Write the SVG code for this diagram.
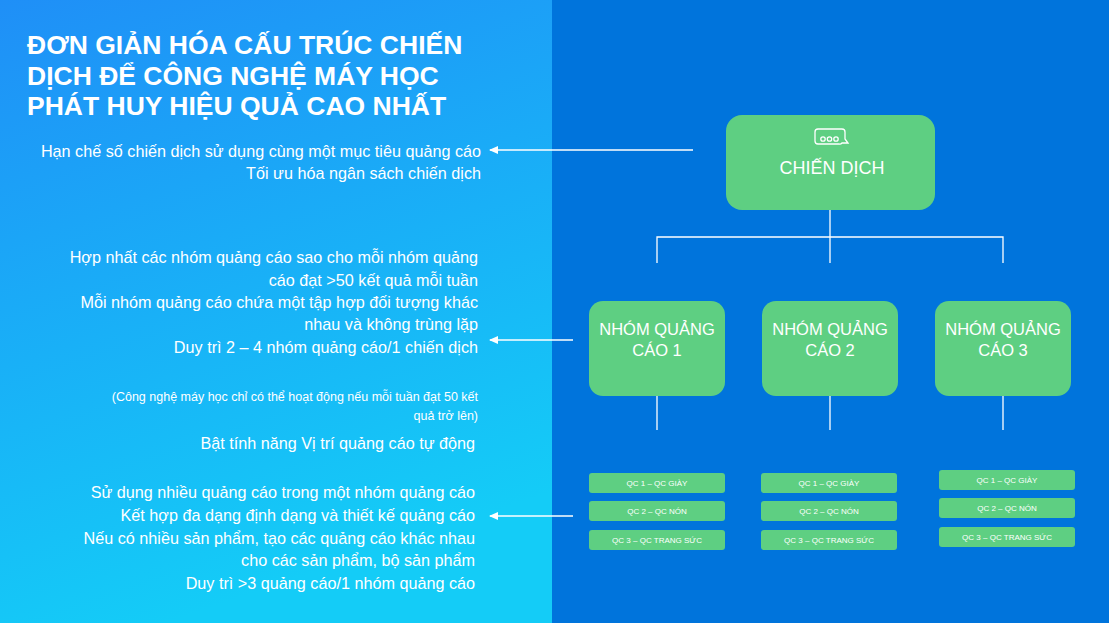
<svg xmlns="http://www.w3.org/2000/svg" width="1109" height="623" viewBox="0 0 1109 623">
<defs>
<linearGradient id="lg" x1="0" y1="0" x2="0.3" y2="1">
<stop offset="0" stop-color="#1f8ff7"/><stop offset="1" stop-color="#14ccf7"/>
</linearGradient>
<marker id="ah" markerWidth="9" markerHeight="8" refX="8" refY="4" orient="auto" markerUnits="userSpaceOnUse"><path d="M0,0 L9,4 L0,8 Z" fill="#fff"/></marker>
</defs>
<style>
text{font-family:"Liberation Sans","DejaVu Sans",sans-serif;fill:#fff}
.t{font-size:26.5px;font-weight:bold}
.l{font-size:16.2px;text-anchor:end}
.n{fill:#5ecf82}
.c{font-size:16.5px;text-anchor:middle}
.s{font-size:8px;text-anchor:middle}
.ln{stroke:#fff;stroke-width:1.3;fill:none}
</style>
<rect width="552" height="623" fill="url(#lg)"/>
<rect x="552" width="557" height="623" fill="#0074dc"/>
<text class="t" x="27" y="54">ĐƠN GIẢN HÓA CẤU TRÚC CHIẾN</text>
<text class="t" x="27" y="85">DỊCH ĐỂ CÔNG NGHỆ MÁY HỌC</text>
<text class="t" x="27" y="115">PHÁT HUY HIỆU QUẢ CAO NHẤT</text>
<g>
<text class="l" x="481" y="157">Hạn chế số chiến dịch sử dụng cùng một mục tiêu quảng cáo</text>
<text class="l" x="481" y="179">Tối ưu hóa ngân sách chiến dịch</text>
<text class="l" x="478" y="263">Hợp nhất các nhóm quảng cáo sao cho mỗi nhóm quảng</text>
<text class="l" x="478" y="286">cáo đạt &gt;50 kết quả mỗi tuần</text>
<text class="l" x="478" y="308">Mỗi nhóm quảng cáo chứa một tập hợp đối tượng khác</text>
<text class="l" x="478" y="330">nhau và không trùng lặp</text>
<text class="l" x="478" y="353">Duy trì 2 – 4 nhóm quảng cáo/1 chiến dịch</text>
<text class="l" x="478" y="401" style="font-size:12.5px">(Công nghệ máy học chỉ có thể hoạt động nếu mỗi tuần đạt 50 kết</text>
<text class="l" x="478" y="420" style="font-size:12.5px">quả trở lên)</text>
<text class="l" x="475" y="449">Bật tính năng Vị trí quảng cáo tự động</text>
<text class="l" x="475" y="498">Sử dụng nhiều quảng cáo trong một nhóm quảng cáo</text>
<text class="l" x="475" y="521">Kết hợp đa dạng định dạng và thiết kế quảng cáo</text>
<text class="l" x="475" y="544">Nếu có nhiều sản phẩm, tạo các quảng cáo khác nhau</text>
<text class="l" x="475" y="566">cho các sản phẩm, bộ sản phẩm</text>
<text class="l" x="475" y="589">Duy trì &gt;3 quảng cáo/1 nhóm quảng cáo</text>
</g>
<g id="connectors">
<path class="ln" d="M830,209 V263 M657,263 V237 H1003 V263 M657,395 V430 M830,395 V430 M1003,395 V430"/>
<path class="ln" d="M693,150 H490" marker-end="url(#ah)"/>
<path class="ln" d="M573,340 H490" marker-end="url(#ah)"/>
<path class="ln" d="M573,516 H490" marker-end="url(#ah)"/>
</g>
<g id="chien-dich">
<rect class="n" x="726" y="115" width="209" height="95" rx="16"/>
<path d="M818,129 h24 a3,3 0 0 1 3,3 v7 l3,4 h-6 a3,3 0 0 1 -3,1 h-21 a3,3 0 0 1 -3,-3 v-9 a3,3 0 0 1 3,-3 z" class="ln" stroke-width="1.2"/>
<circle cx="823" cy="139" r="2.2" class="ln" stroke-width="1"/><circle cx="829.5" cy="139" r="2.2" class="ln" stroke-width="1"/><circle cx="836" cy="139" r="2.2" class="ln" stroke-width="1"/>
<text class="c" x="832" y="174" style="font-size:18px">CHIẾN DỊCH</text>
</g>
<g id="nhom1"><rect class="n" x="589" y="301" width="136" height="95" rx="14"/><text class="c" x="657" y="335">NHÓM QUẢNG</text><text class="c" x="657" y="356">CÁO 1</text></g>
<g id="nhom2"><rect class="n" x="762" y="301" width="136" height="95" rx="14"/><text class="c" x="830" y="335">NHÓM QUẢNG</text><text class="c" x="830" y="356">CÁO 2</text></g>
<g id="nhom3"><rect class="n" x="935" y="301" width="136" height="95" rx="14"/><text class="c" x="1003" y="335">NHÓM QUẢNG</text><text class="c" x="1003" y="356">CÁO 3</text></g>
<g id="c1a"><rect class="n" x="589" y="473" width="136" height="20" rx="3"/><text class="s" x="657" y="486">QC 1 – QC GIÀY</text></g>
<g id="c1b"><rect class="n" x="589" y="501" width="136" height="20" rx="3"/><text class="s" x="657" y="514">QC 2 – QC NÓN</text></g>
<g id="c1c"><rect class="n" x="589" y="530" width="136" height="20" rx="3"/><text class="s" x="657" y="543">QC 3 – QC TRANG SỨC</text></g>
<g id="c2a"><rect class="n" x="761" y="473" width="136" height="20" rx="3"/><text class="s" x="829" y="486">QC 1 – QC GIÀY</text></g>
<g id="c2b"><rect class="n" x="761" y="501" width="136" height="20" rx="3"/><text class="s" x="829" y="514">QC 2 – QC NÓN</text></g>
<g id="c2c"><rect class="n" x="761" y="530" width="136" height="20" rx="3"/><text class="s" x="829" y="543">QC 3 – QC TRANG SỨC</text></g>
<g id="c3a"><rect class="n" x="939" y="470" width="136" height="20" rx="3"/><text class="s" x="1007" y="483">QC 1 – QC GIÀY</text></g>
<g id="c3b"><rect class="n" x="939" y="498" width="136" height="20" rx="3"/><text class="s" x="1007" y="511">QC 2 – QC NÓN</text></g>
<g id="c3c"><rect class="n" x="939" y="527" width="136" height="20" rx="3"/><text class="s" x="1007" y="540">QC 3 – QC TRANG SỨC</text></g>
</svg>
